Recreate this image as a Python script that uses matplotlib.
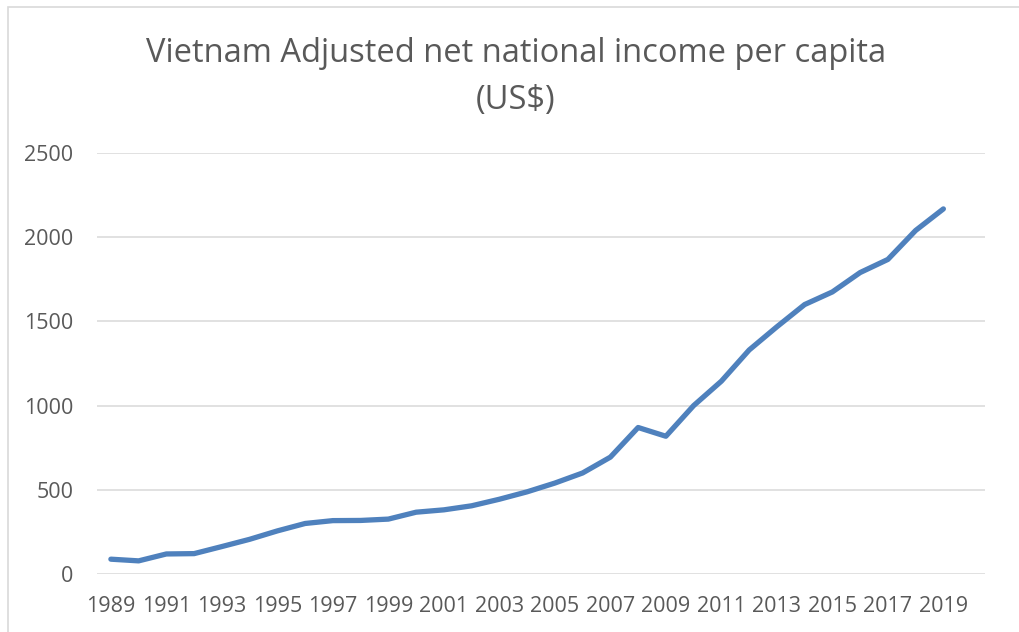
import matplotlib.pyplot as plt
from matplotlib.patches import Rectangle

years = list(range(1989, 2020))
income = [88, 78, 119, 121, 163, 206, 256, 300, 317, 318, 326, 367, 381,
          405, 444, 488, 540, 600, 694, 870, 818, 1000, 1145, 1330, 1468,
          1600, 1675, 1790, 1868, 2040, 2168]
tick_years = list(range(1989, 2020, 2))
y_ticks = [0, 500, 1000, 1500, 2000, 2500]

plt.rcParams['font.family'] = ['Open Sans', 'DejaVu Sans']
grey = "#595959"

fig = plt.figure(figsize=(10.19, 6.32), dpi=100)
ax = fig.add_axes([97/1019, 1 - 574/632, 888/1019, (574 - 153)/632])

# chart frame (partly cropped in the original)
fig.patches.append(Rectangle((8/1019, -0.1), 1.2, 1 - 7/632 + 0.1,
                             transform=fig.transFigure, fill=False,
                             edgecolor="#D9D9D9", linewidth=1.2))

ax.plot(years, income, color="#4F81BD", linewidth=3.8,
        solid_capstyle="round", solid_joinstyle="round")

ax.set_xlim(1988.5, 2020.5)
ax.set_ylim(0, 2500)
ax.set_yticks(y_ticks)
ax.set_xticks(tick_years)
ax.grid(axis="y", color="#D9D9D9", linewidth=1.1)
ax.set_axisbelow(True)
for s in ax.spines.values():
    s.set_visible(False)
ax.tick_params(length=0, labelsize=15.5, colors=grey)
ax.tick_params(axis="y", pad=17)
ax.tick_params(axis="x", pad=16)

fig.text(0.506, 1 - 53/632, "Vietnam Adjusted net national income per capita",
         ha="center", va="center", fontsize=23.5, color=grey)
fig.text(0.506, 1 - 100/632, "(US$)", ha="center", va="center",
         fontsize=23.5, color=grey)

fig.savefig("out.png", dpi=100)
